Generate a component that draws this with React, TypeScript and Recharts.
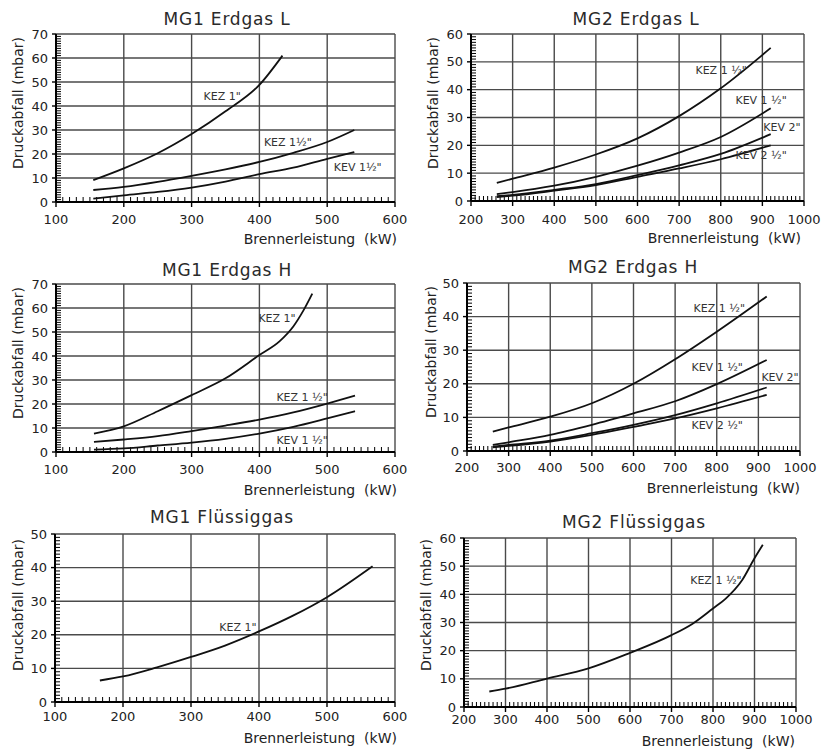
import React from "react";
import { LineChart, Line, XAxis, YAxis, CartesianGrid, ReferenceDot, ReferenceLine } from "recharts";

const FONT = "DejaVu Sans";

// ---------- tick values ----------
const mg1XTicks = [100, 200, 300, 400, 500, 600];
const mg2XTicks = [200, 300, 400, 500, 600, 700, 800, 900, 1000];
const yTicks70 = [0, 10, 20, 30, 40, 50, 60, 70];
const yTicks60 = [0, 10, 20, 30, 40, 50, 60];
const yTicks50 = [0, 10, 20, 30, 40, 50];

// ---------- MG1 Erdgas L ----------
const c1Kez1X = [155, 200, 250, 300, 350, 400, 434];
const c1Kez1Y = [9.1, 14, 20.3, 28.3, 37.8, 48.8, 61];
const c1Kez15X = [155, 200, 250, 300, 350, 400, 450, 500, 540];
const c1Kez15Y = [5, 6.3, 8.4, 10.9, 13.6, 16.7, 20.5, 25, 30];
const c1Kev15X = [155, 200, 250, 300, 350, 400, 450, 500, 540];
const c1Kev15Y = [1.4, 2.8, 4.2, 6, 8.5, 11.6, 14.3, 18, 20.8];

// ---------- MG2 Erdgas L ----------
const c2X = [262, 300, 400, 500, 600, 700, 800, 920];
const c2Kez15Y = [6.5, 8, 12, 16.7, 22.5, 30.5, 40.5, 55];
const c2Kev15Y = [2.5, 3.2, 5.5, 8.7, 12.7, 17.4, 23, 33.3];
const c2Kev2Y = [1.7, 2.2, 4, 6.1, 9.3, 12.8, 16.9, 24];
const c2Kev25Y = [1.4, 1.9, 3.7, 5.7, 8.7, 11.7, 15, 20];

// ---------- MG1 Erdgas H ----------
const c3Kez1X = [156, 200, 250, 300, 350, 400, 430, 450, 465, 478];
const c3Kez1Y = [7.7, 10.7, 17, 23.7, 30.7, 40.4, 46.2, 52.3, 59, 66];
const c3Kez15X = [156, 200, 250, 300, 350, 400, 450, 500, 541];
const c3Kez15Y = [4.2, 5.2, 6.6, 8.7, 11, 13.5, 16.5, 20.2, 23.5];
const c3Kev15X = [156, 200, 250, 300, 350, 400, 450, 500, 541];
const c3Kev15Y = [1, 1.5, 2.7, 3.9, 5.5, 7.7, 10.5, 14, 17];

// ---------- MG2 Erdgas H ----------
const c4X = [262, 300, 400, 500, 600, 700, 800, 920];
const c4Kez15Y = [5.8, 7, 10.2, 14.2, 20, 27.3, 35.5, 46];
const c4Kev15Y = [1.8, 2.6, 4.8, 7.8, 11.2, 14.8, 19.9, 27.1];
const c4Kev2Y = [1.3, 1.8, 3.1, 5.3, 7.8, 10.7, 14.2, 18.9];
const c4Kev25Y = [1.1, 1.5, 2.8, 4.8, 7.2, 9.7, 12.7, 16.7];

// ---------- MG1 Flüssiggas ----------
const c5Kez1X = [166, 200, 250, 300, 350, 400, 450, 500, 567];
const c5Kez1Y = [6.4, 7.6, 10.3, 13.4, 16.8, 21, 25.7, 31.2, 40.4];

// ---------- MG2 Flüssiggas ----------
const c6Kez15X = [261, 300, 400, 500, 600, 700, 750, 800, 830, 870, 900, 920];
const c6Kez15Y = [5.5, 6.5, 10.1, 13.7, 19.2, 25.5, 29.5, 35, 38.4, 45, 52.8, 57.6];

// ---------- curve labels (text, x, y in data units) ----------
const c1Labels = [
  { t: 'KEZ 1"', x: 345, y: 44 },
  { t: 'KEZ 1½"', x: 442, y: 25 },
  { t: 'KEV 1½"', x: 545, y: 14.6 },
];
const c2Labels = [
  { t: 'KEZ 1 ½"', x: 801, y: 47 },
  { t: 'KEV 1 ½"', x: 897, y: 36.3 },
  { t: 'KEV 2"', x: 947, y: 26.6 },
  { t: 'KEV 2 ½"', x: 897, y: 16.5 },
];
const c3Labels = [
  { t: 'KEZ 1"', x: 426, y: 56 },
  { t: 'KEZ 1 ½"', x: 463, y: 22.9 },
  { t: 'KEV 1 ½"', x: 463, y: 5 },
];
const c4Labels = [
  { t: 'KEZ 1 ½"', x: 806, y: 42.6 },
  { t: 'KEV 1 ½"', x: 801, y: 25 },
  { t: 'KEV 2"', x: 952, y: 22 },
  { t: 'KEV 2 ½"', x: 801, y: 7.7 },
];
const c5Labels = [{ t: 'KEZ 1"', x: 369, y: 22.3 }];
const c6Labels = [{ t: 'KEZ 1 ½"', x: 807, y: 45 }];

const toPts = (xs: number[], ys: number[]) => xs.map((x, i) => ({ x, y: ys[i] }));
const range = (a: number, b: number, s: number) => {
  const r: number[] = [];
  for (let v = a; v <= b + 1e-9; v += s) r.push(v);
  return r;
};

type Cfg = {
  left: number;
  top: number;
  title: string;
  titleX: number;
  titleY: number;
  xLabelEnd: number;
  xLabelY: number;
  yLabelX: number;
  yLabelC: number;
  margin: { top: number; right: number; bottom: number; left: number };
  xDomain: [number, number];
  xTicks: number[];
  xMinorStep: number;
  yDomain: [number, number];
  yTicks: number[];
  xTickMargin: number;
  series: { x: number; y: number }[][];
  labels: { t: string; x: number; y: number }[];
};

const panels: Cfg[] = [
  {
    left: 0, top: 0, title: "MG1  Erdgas L", titleX: 227, titleY: 25,
    xLabelEnd: 397, xLabelY: 244, yLabelX: 23, yLabelC: 103,
    margin: { top: 34, right: 18, bottom: 28, left: 26 },
    xDomain: [100, 600], xTicks: mg1XTicks, xMinorStep: 10,
    yDomain: [0, 70], yTicks: yTicks70, xTickMargin: 8,
    series: [toPts(c1Kez1X, c1Kez1Y), toPts(c1Kez15X, c1Kez15Y), toPts(c1Kev15X, c1Kev15Y)],
    labels: c1Labels,
  },
  {
    left: 413, top: 0, title: "MG2  Erdgas L", titleX: 223, titleY: 25,
    xLabelEnd: 388, xLabelY: 243, yLabelX: 25, yLabelC: 103,
    margin: { top: 34, right: 22, bottom: 29, left: 28 },
    xDomain: [200, 1000], xTicks: mg2XTicks, xMinorStep: 10,
    yDomain: [0, 60], yTicks: yTicks60, xTickMargin: 9,
    series: [toPts(c2X, c2Kez15Y), toPts(c2X, c2Kev15Y), toPts(c2X, c2Kev2Y), toPts(c2X, c2Kev25Y)],
    labels: c2Labels,
  },
  {
    left: 0, top: 250, title: "MG1  Erdgas H", titleX: 227, titleY: 26,
    xLabelEnd: 397, xLabelY: 245, yLabelX: 23, yLabelC: 103,
    margin: { top: 34, right: 18, bottom: 28, left: 26 },
    xDomain: [100, 600], xTicks: mg1XTicks, xMinorStep: 10,
    yDomain: [0, 70], yTicks: yTicks70, xTickMargin: 8,
    series: [toPts(c3Kez1X, c3Kez1Y), toPts(c3Kez15X, c3Kez15Y), toPts(c3Kev15X, c3Kev15Y)],
    labels: c3Labels,
  },
  {
    left: 413, top: 250, title: "MG2  Erdgas H", titleX: 220, titleY: 23,
    xLabelEnd: 387, xLabelY: 243, yLabelX: 23, yLabelC: 102,
    margin: { top: 33, right: 26, bottom: 29, left: 24 },
    xDomain: [200, 1000], xTicks: mg2XTicks, xMinorStep: 10,
    yDomain: [0, 50], yTicks: yTicks50, xTickMargin: 7,
    series: [toPts(c4X, c4Kez15Y), toPts(c4X, c4Kev15Y), toPts(c4X, c4Kev2Y), toPts(c4X, c4Kev25Y)],
    labels: c4Labels,
  },
  {
    left: 0, top: 500, title: "MG1  Flüssiggas", titleX: 222, titleY: 23,
    xLabelEnd: 397, xLabelY: 243, yLabelX: 23, yLabelC: 105,
    margin: { top: 34, right: 18, bottom: 28, left: 25 },
    xDomain: [100, 600], xTicks: mg1XTicks, xMinorStep: 10,
    yDomain: [0, 50], yTicks: yTicks50, xTickMargin: 5,
    series: [toPts(c5Kez1X, c5Kez1Y)],
    labels: c5Labels,
  },
  {
    left: 413, top: 500, title: "MG2 Flüssiggas", titleX: 221, titleY: 28,
    xLabelEnd: 382, xLabelY: 246, yLabelX: 18, yLabelC: 105,
    margin: { top: 38, right: 30, bottom: 23, left: 21 },
    xDomain: [200, 1000], xTicks: mg2XTicks, xMinorStep: 10,
    yDomain: [0, 60], yTicks: yTicks60, xTickMargin: 3,
    series: [toPts(c6Kez15X, c6Kez15Y)],
    labels: c6Labels,
  },
];

const W = 413;
const H = 250;
const Y_AXIS_W = 30;
const X_AXIS_H = 20;
const MINOR_PX = 5; // length of the small inner ticks, in pixels (from the axis centre)

function Panel({ c }: { c: Cfg }) {
  const plotW = W - c.margin.left - c.margin.right - Y_AXIS_W;
  const plotH = H - c.margin.top - c.margin.bottom - X_AXIS_H;
  const xSpan = c.xDomain[1] - c.xDomain[0];
  const ySpan = c.yDomain[1] - c.yDomain[0];
  const dy = (ySpan * MINOR_PX) / plotH;
  const dx = (xSpan * MINOR_PX) / plotW;
  const xMinor = range(c.xDomain[0], c.xDomain[1], c.xMinorStep).filter((v) => !c.xTicks.includes(v));
  const yMinor = range(c.yDomain[0], c.yDomain[1], 1).filter((v) => !c.yTicks.includes(v));
  return (
    <div style={{ position: "absolute", left: c.left, top: c.top, width: W, height: H }}>
      <LineChart width={W} height={H} margin={c.margin}>
        <CartesianGrid
          stroke="#4a4a4a"
          strokeWidth={1.4}
          horizontalValues={c.yTicks}
          verticalValues={c.xTicks}
        />
        <XAxis
          type="number"
          dataKey="x"
          domain={c.xDomain}
          ticks={c.xTicks}
          interval={0}
          allowDataOverflow
          height={X_AXIS_H}
          tickSize={5}
          tickMargin={c.xTickMargin}
          axisLine={{ stroke: "#000", strokeWidth: 2 }}
          tickLine={{ stroke: "#000", strokeWidth: 1.4 }}
          tick={{ fill: "#222", fontSize: 13, fontFamily: FONT }}
        />
        <YAxis
          type="number"
          domain={c.yDomain}
          ticks={c.yTicks}
          interval={0}
          allowDataOverflow
          width={Y_AXIS_W}
          tickSize={4}
          tickMargin={4}
          axisLine={{ stroke: "#000", strokeWidth: 2 }}
          tickLine={{ stroke: "#000", strokeWidth: 1.4 }}
          tick={{ fill: "#222", fontSize: 13, fontFamily: FONT }}
        />
        {xMinor.map((v) => (
          <ReferenceLine
            key={"mx" + v}
            segment={[
              { x: v, y: c.yDomain[0] },
              { x: v, y: c.yDomain[0] + dy },
            ]}
            stroke="#000"
            strokeWidth={1}
            ifOverflow="visible"
          />
        ))}
        {yMinor.map((v) => (
          <ReferenceLine
            key={"my" + v}
            segment={[
              { x: c.xDomain[0], y: v },
              { x: c.xDomain[0] + dx, y: v },
            ]}
            stroke="#000"
            strokeWidth={1}
            ifOverflow="visible"
          />
        ))}
        {c.series.map((pts, i) => (
          <Line
            key={i}
            data={pts}
            dataKey="y"
            type="monotone"
            dot={false}
            activeDot={false}
            stroke="#111"
            strokeWidth={1.8}
            isAnimationActive={false}
          />
        ))}
        {c.labels.map((l, i) => (
          <ReferenceDot
            key={"l" + i}
            x={l.x}
            y={l.y}
            r={0}
            fill="none"
            stroke="none"
            ifOverflow="visible"
            label={{ value: l.t, position: "center", fill: "#333", fontSize: 11, fontFamily: FONT }}
          />
        ))}
      </LineChart>
      <svg
        width={W}
        height={H}
        style={{ position: "absolute", left: 0, top: 0, pointerEvents: "none" }}
      >
        <text
          x={c.titleX}
          y={c.titleY}
          textAnchor="middle"
          fontFamily={FONT}
          fontSize={17}
          letterSpacing={0.8}
          fill="#2a2a2a"
        >
          {c.title}
        </text>
        <text
          x={c.xLabelEnd}
          y={c.xLabelY}
          textAnchor="end"
          fontFamily={FONT}
          fontSize={14}
          fill="#222"
          style={{ whiteSpace: "pre" }}
        >
          {"Brennerleistung  (kW)"}
        </text>
        <text
          transform={`translate(${c.yLabelX},${c.yLabelC}) rotate(-90)`}
          textAnchor="middle"
          fontFamily={FONT}
          fontSize={14}
          fill="#222"
        >
          Druckabfall (mbar)
        </text>
      </svg>
    </div>
  );
}

export default function App() {
  return (
    <div style={{ position: "absolute", left: 0, top: 0, width: 826, height: 751, background: "#fff" }}>
      {panels.map((c, i) => (
        <Panel key={i} c={c} />
      ))}
    </div>
  );
}
